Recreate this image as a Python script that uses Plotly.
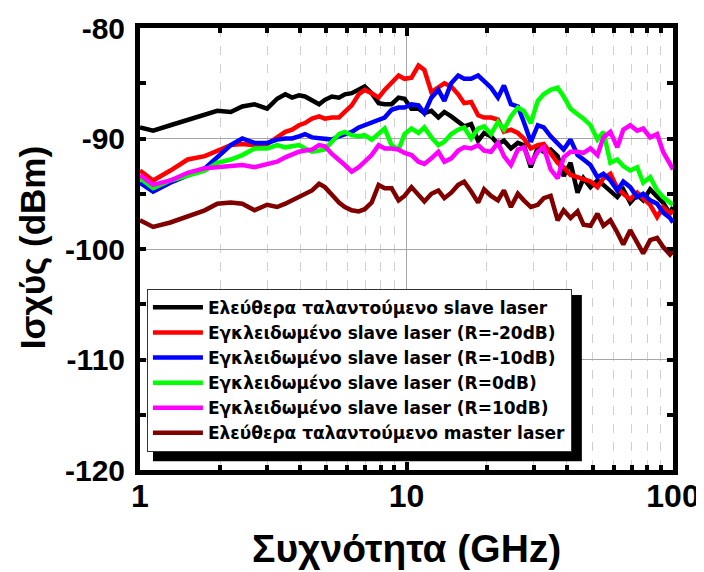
import plotly.graph_objects as go

# ── Data ──────────────────────────────────────────────
freq_ghz = [1.0, 1.12, 1.3, 1.51, 1.75, 1.95, 2.19, 2.42, 2.69, 3.0,
            3.27, 3.51, 3.72, 3.95, 4.16, 4.42, 4.7, 4.94, 5.25, 5.58,
            5.87, 6.23, 6.62, 6.97, 7.4, 7.86, 8.28, 8.79, 9.34, 9.83,
            10.44, 11.09, 11.67, 12.4, 13.17, 13.87, 14.72, 15.63, 16.46, 17.48,
            18.57, 19.55, 20.76, 22.04, 23.21, 24.65, 26.17, 27.56, 29.27, 31.09,
            32.73, 34.75, 36.92, 38.87, 41.27, 43.84, 46.16, 49.02, 52.06, 54.82,
            58.22, 61.8, 65.08, 69.1, 73.4, 77.29, 82.08, 87.17, 91.78, 97.46, 100]

free_slave = [-89.0, -89.3, -88.8, -88.3, -87.8, -87.5, -87.6, -87.1, -86.9, -87.3,
              -86.4, -86.0, -86.3, -86.1, -86.2, -86.5, -86.9, -86.5, -86.2, -86.3,
              -86.0, -85.9, -85.6, -85.3, -85.9, -86.8, -86.9, -86.9, -86.3, -86.4,
              -87.3, -87.3, -87.7, -87.5, -88.1, -87.6, -88.0, -88.5, -88.9, -88.7,
              -90.2, -89.5, -89.8, -90.5, -90.2, -90.9, -90.4, -90.6, -92.6, -90.8,
              -91.2, -91.0, -91.6, -93.4, -92.2, -94.9, -93.6, -94.4, -93.8, -94.2,
              -94.8, -95.3, -94.6, -95.8, -95.1, -95.6, -94.6, -95.2, -95.8, -96.8, -96.2]

locked_m20 = [-92.9, -93.8, -92.9, -91.9, -91.6, -91.1, -90.6, -90.5, -90.6, -90.5,
              -89.9, -89.4, -89.2, -88.8, -88.6, -88.2, -88.0, -88.2, -88.1, -88.1,
              -87.6, -87.0, -86.0, -85.6, -85.9, -86.3, -85.6, -85.0, -84.3, -84.6,
              -84.5, -83.4, -83.8, -85.8, -85.3, -85.0, -85.3, -86.0, -86.8, -86.7,
              -87.9, -88.1, -88.1, -88.3, -89.4, -89.2, -89.5, -90.0, -90.9, -90.6,
              -90.5, -91.4, -92.2, -92.6, -93.3, -93.5, -93.7, -93.9, -94.4, -93.6,
              -93.2, -94.5, -95.0, -95.5, -94.9, -95.4, -96.0, -97.1, -96.2, -96.8, -96.5]

locked_m10 = [-94.0, -94.8, -94.0, -93.3, -92.7, -91.7, -90.6, -90.0, -90.4, -90.4,
              -90.1, -90.0, -90.0, -89.8, -89.6, -89.9, -90.0, -90.1, -90.1, -89.8,
              -89.6, -89.4, -89.0, -88.8, -88.6, -88.4, -88.1, -87.4, -87.2, -87.2,
              -86.9, -87.0, -87.7, -86.3, -85.6, -86.6, -85.0, -84.3, -84.6, -84.6,
              -84.3, -84.8, -85.4, -86.3, -85.2, -86.9, -87.1, -88.5, -90.3, -88.8,
              -89.0, -89.8, -90.5, -91.0, -90.1, -91.5, -91.9, -92.4, -93.5, -93.2,
              -93.8, -94.7, -93.9, -94.4, -95.3, -95.0, -95.6, -95.9, -96.7, -97.2, -97.6]

locked_0 = [-93.6, -94.5, -93.8, -93.3, -92.9, -92.2, -91.9, -91.5, -90.9, -90.9,
            -90.6, -90.8, -90.7, -90.6, -90.9, -91.2, -91.1, -91.0, -90.3, -89.6,
            -89.4, -89.7, -89.8, -89.7, -90.1, -89.6, -89.1, -90.6, -91.0, -89.6,
            -89.1, -89.5, -89.0, -89.9, -90.6, -90.3, -89.6, -89.2, -89.0, -90.0,
            -89.1, -88.9, -89.6, -88.5, -89.2, -88.0, -87.2, -87.5, -88.6, -86.6,
            -86.0, -85.6, -85.4, -86.2, -87.3, -87.8, -88.2, -88.8, -90.1, -89.4,
            -92.2, -91.9, -92.5, -92.9, -92.6, -94.0, -93.5, -94.7, -95.3, -95.8, -96.0]

locked_10 = [-93.3, -94.2, -93.8, -93.1, -92.7, -92.6, -92.4, -92.4, -92.6, -92.3,
             -92.1, -91.7, -91.4, -91.2, -91.1, -91.0, -90.6, -90.7, -91.4, -91.9,
             -92.4, -93.0, -92.6, -92.1, -91.5, -90.6, -90.9, -90.9, -91.0, -91.3,
             -91.5, -92.1, -92.3, -91.8, -91.2, -92.1, -91.8, -91.1, -90.8, -90.9,
             -90.6, -91.1, -91.2, -90.4, -91.6, -92.4, -91.0, -90.8, -92.3, -91.2,
             -90.8, -92.8, -93.6, -91.7, -91.2, -91.2, -91.3, -90.9, -91.5, -89.9,
             -89.4, -90.8, -89.2, -88.8, -89.3, -89.1, -89.9, -89.6, -91.2, -92.3, -92.8]

free_master = [-97.4, -98.0, -97.6, -97.1, -96.5, -95.9, -95.8, -95.9, -96.5, -96.0,
               -96.2, -95.9, -95.6, -95.3, -95.1, -94.7, -94.1, -94.4, -95.1, -95.8,
               -96.2, -96.5, -96.6, -96.4, -95.8, -94.2, -94.5, -94.5, -95.6, -95.2,
               -94.4, -95.1, -95.7, -95.0, -94.7, -95.4, -94.9, -94.2, -93.9, -94.8,
               -95.8, -94.6, -95.2, -95.6, -94.7, -96.2, -95.0, -95.6, -96.2, -96.0,
               -95.4, -95.2, -97.4, -96.5, -97.2, -96.6, -97.8, -97.9, -96.8, -97.9,
               -97.4, -98.5, -99.6, -98.3, -99.4, -100.4, -99.2, -99.0, -99.8, -100.5, -100.2]

y_tickvals = [-120, -110, -100, -90, -80]
y_ticktext = ["-120", "-110", "-100", "-90", "-80"]
x_tickvals = [1, 10, 100]
x_ticktext = ["1", "10", "100"]

SERIES = [
    ("Ελεύθερα ταλαντούμενο slave laser",   free_slave,  "#000000"),
    ("Εγκλειδωμένο slave laser (R=-20dB)",  locked_m20,  "#ff0000"),
    ("Εγκλειδωμένο slave laser (R=-10dB)",  locked_m10,  "#0000ff"),
    ("Εγκλειδωμένο slave laser (R=0dB)",    locked_0,    "#00ff00"),
    ("Εγκλειδωμένο slave laser (R=10dB)",   locked_10,   "#ff00ff"),
    ("Ελεύθερα ταλαντούμενο master laser",  free_master, "#800000"),
]

FONT        = "Liberation Sans, Arial, sans-serif"
LEGEND_FONT = "DejaVu Sans, Liberation Sans, sans-serif"

fig = go.Figure()

for name, values, color in SERIES:
    fig.add_trace(go.Scatter(
        x=freq_ghz,
        y=values,
        mode="lines",
        name=name,
        line=dict(color=color, width=4.5),
    ))

# legend drop shadow (black box offset behind the legend)
fig.add_shape(
    type="rect", xref="paper", yref="paper", layer="above",
    x0=0.0244, x1=0.829, y0=0.020, y1=0.396,
    fillcolor="black", line=dict(width=0),
)

fig.add_annotation(
    text="<b>Ισχύς (dBm)</b>", xref="paper", yref="paper",
    x=-0.2026, y=0.502, xanchor="center", yanchor="middle",
    textangle=-90, showarrow=False,
    font=dict(family=FONT, size=35, color="black"),
)
fig.add_annotation(
    text="<b>Συχνότητα (GHz)</b>", xref="paper", yref="paper",
    x=0.5, y=-0.1765, xanchor="center", yanchor="middle", showarrow=False,
    font=dict(family=FONT, size=39, color="black"),
)

fig.update_xaxes(
    type="log", range=[0, 2],
    tickmode="array", tickvals=x_tickvals, ticktext=x_ticktext,
    showline=True, linewidth=5, linecolor="black", mirror="ticks",
    ticks="inside", ticklen=8, tickwidth=4, tickcolor="black",
    showgrid=True, gridcolor="#a6a6a6", gridwidth=1,
    tickfont=dict(family=FONT, size=32, color="black", weight="bold"),
    ticklabelstandoff=-6,
    minor=dict(dtick="D1", ticks="inside", ticklen=5, tickwidth=4, tickcolor="black",
               showgrid=True, gridcolor="#d0d0d0", griddash="dash", gridwidth=1),
    zeroline=False, automargin=False,
)
fig.update_yaxes(
    range=[-120, -80],
    tickmode="array", tickvals=y_tickvals, ticktext=y_ticktext,
    showline=True, linewidth=5, linecolor="black", mirror="ticks",
    ticks="inside", ticklen=6, tickwidth=4, tickcolor="black",
    showgrid=True, gridcolor="#a6a6a6", gridwidth=1,
    tickfont=dict(family=FONT, size=30, color="black", weight="bold"),
    ticklabelstandoff=4,
    minor=dict(dtick=5, ticks="inside", ticklen=6, tickwidth=4, tickcolor="black",
               showgrid=False),
    zeroline=False, automargin=False,
)

# the page body adds an 8px offset, so the figure is 8px smaller
fig.update_layout(
    width=696, height=564,
    paper_bgcolor="white", plot_bgcolor="white",
    margin=dict(l=132, r=31, t=20, b=102),
    showlegend=True,
    legend=dict(
        x=0.013, y=0.41, xanchor="left", yanchor="top",
        bgcolor="white", bordercolor="#333333", borderwidth=1,
        font=dict(family=LEGEND_FONT, size=17, color="black", weight="bold"),
        itemwidth=50, traceorder="normal",
    ),
)

fig.write_html("out.html")
